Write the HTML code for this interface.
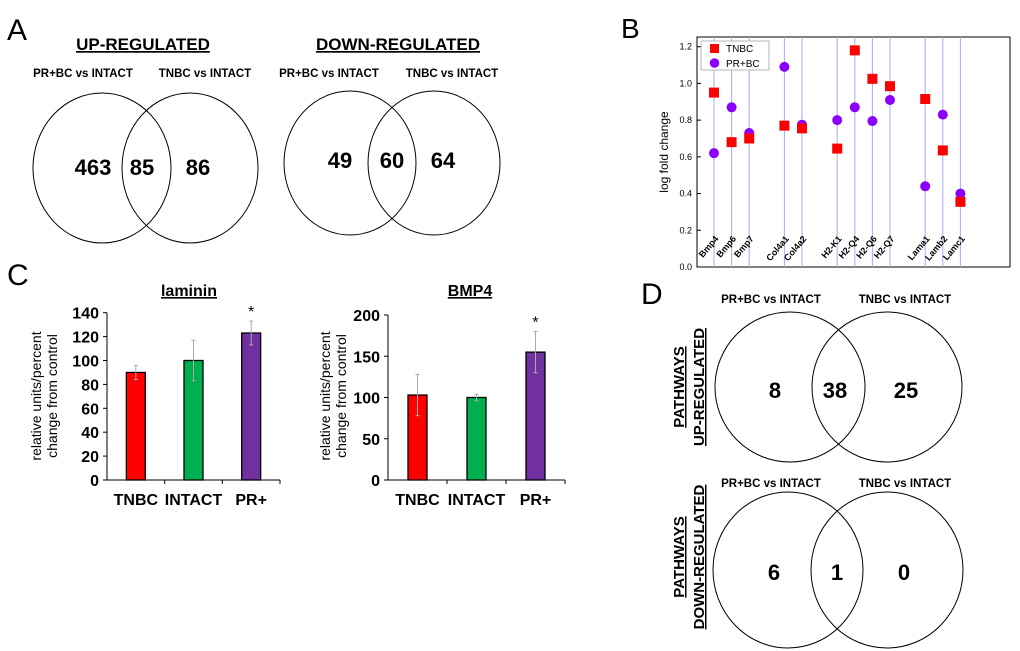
<!DOCTYPE html>
<html><head><meta charset="utf-8">
<style>
html,body{margin:0;padding:0;background:#fff;}
svg{display:block;font-family:"Liberation Sans",Arial,sans-serif;}
</style></head>
<body>
<svg id="fig" width="1020" height="651" viewBox="0 0 1020 651" xmlns="http://www.w3.org/2000/svg">
<!-- Panel A -->
<g>
<text x="7" y="40" font-size="30">A</text>
<text x="143" y="50" font-size="17" font-weight="bold" text-anchor="middle" text-decoration="underline">UP-REGULATED</text>
<text x="398" y="50" font-size="17" font-weight="bold" text-anchor="middle" text-decoration="underline">DOWN-REGULATED</text>
<text x="83" y="77" font-size="11.5" font-weight="bold" text-anchor="middle">PR+BC vs INTACT</text>
<text x="205" y="77" font-size="11.5" font-weight="bold" text-anchor="middle">TNBC vs INTACT</text>
<text x="329" y="77" font-size="11.5" font-weight="bold" text-anchor="middle">PR+BC vs INTACT</text>
<text x="452" y="77" font-size="11.5" font-weight="bold" text-anchor="middle">TNBC vs INTACT</text>
<ellipse cx="102" cy="168" rx="69" ry="75" fill="none" stroke="#000" stroke-width="1"/>
<ellipse cx="190" cy="168" rx="68" ry="75" fill="none" stroke="#000" stroke-width="1"/>
<ellipse cx="350" cy="163" rx="66" ry="72" fill="none" stroke="#000" stroke-width="1"/>
<ellipse cx="434" cy="163" rx="66" ry="72" fill="none" stroke="#000" stroke-width="1"/>
<g font-size="22" font-weight="bold" text-anchor="middle">
<text x="93" y="175">463</text>
<text x="142" y="175">85</text>
<text x="198" y="175">86</text>
<text x="340" y="168">49</text>
<text x="392" y="168">60</text>
<text x="443" y="168">64</text>
</g>
</g>
<!-- Panel B -->
<g id="panelB">
<text x="621" y="38" font-size="28">B</text>
</g>
<!-- Panel C -->
<g id="panelC">
<text x="7" y="285" font-size="30">C</text>
</g>
<!-- Panel D -->
<g>
<text x="641" y="304" font-size="30">D</text>
<text x="771" y="303" font-size="11.5" font-weight="bold" text-anchor="middle">PR+BC vs INTACT</text>
<text x="905" y="303" font-size="11.5" font-weight="bold" text-anchor="middle">TNBC vs INTACT</text>
<text x="771" y="487" font-size="11.5" font-weight="bold" text-anchor="middle">PR+BC vs INTACT</text>
<text x="905" y="487" font-size="11.5" font-weight="bold" text-anchor="middle">TNBC vs INTACT</text>
<ellipse cx="790" cy="387" rx="75" ry="75" fill="none" stroke="#000"/>
<ellipse cx="887" cy="387" rx="75" ry="75" fill="none" stroke="#000"/>
<ellipse cx="788" cy="570" rx="75" ry="78" fill="none" stroke="#000"/>
<ellipse cx="887" cy="570" rx="76" ry="78" fill="none" stroke="#000"/>
<g font-size="22" font-weight="bold" text-anchor="middle">
<text x="775" y="398">8</text>
<text x="835" y="398">38</text>
<text x="906" y="398">25</text>
<text x="774" y="580">6</text>
<text x="837" y="580">1</text>
<text x="904" y="580">0</text>
</g>
<g font-size="15" font-weight="bold" text-anchor="middle" text-decoration="underline">
<text transform="translate(684,387) rotate(-90)">PATHWAYS</text>
<text transform="translate(704,387) rotate(-90)">UP-REGULATED</text>
<text transform="translate(684,557) rotate(-90)">PATHWAYS</text>
<text transform="translate(704,557) rotate(-90)">DOWN-REGULATED</text>
</g>
</g>
</svg>
<script>
// ---- Panel B data ----
const genes = ["Bmp4","Bmp6","Bmp7","Col4a1","Col4a2","H2-K1","H2-Q4","H2-Q6","H2-Q7","Lama1","Lamb2","Lamc1"];
const geneSlots = [0,1,2,4,5,7,8,9,10,12,13,14];
const tnbcVals = [0.95,0.68,0.70,0.77,0.755,0.645,1.18,1.025,0.985,0.915,0.635,0.355];
const prbcVals = [0.62,0.87,0.73,1.09,0.775,0.80,0.87,0.795,0.91,0.44,0.83,0.40];
const bTicks = [0.0,0.2,0.4,0.6,0.8,1.0,1.2];
// ---- Panel C data ----
const cCategories = ["TNBC","INTACT","PR+"];
const lamininVals = [90,100,123];
const lamininErr = [6,17,10];
const lamininTicks = [0,20,40,60,80,100,120,140];
const bmp4Vals = [103,100,155];
const bmp4Err = [25,4,25];
const bmp4Ticks = [0,50,100,150,200];
const cSig = [false,false,true];

const NS="http://www.w3.org/2000/svg";
function mk(parent,tag,attrs,text){const e=document.createElementNS(NS,tag);for(const k in attrs)e.setAttribute(k,attrs[k]);if(text!==undefined)e.textContent=text;parent.appendChild(e);return e;}

// Panel B
(function(){
  const g=document.getElementById('panelB');
  const L=697,R=1010,T=37,B=267;
  const y=v=>B-(v/1.2)*(B-46.7);
  const x=s=>714+s*17.6;
  let e=mk(g,'rect',{x:L,y:T,width:R-L,height:B-T,fill:'none',stroke:'#000','stroke-width':1});
  
  
  bTicks.forEach(t=>{
    e=mk(g,'line',{x1:L,x2:L+4,y1:y(t),y2:y(t),stroke:'#000'});
    
    
    e=mk(g,'text',{x:L-5,y:y(t)+3,'font-size':9,'text-anchor':'end'},t.toFixed(1));
    
    
  });
  e=mk(g,'text',{transform:'translate(668,152) rotate(-90)','font-size':12,'text-anchor':'middle'},'log fold change');
  
  
  genes.forEach((gn,i)=>{
    const xx=x(geneSlots[i]);
    e=mk(g,'line',{x1:xx,x2:xx,y1:T,y2:B,stroke:'#aaaaf0','stroke-width':1});
    
    
    e=mk(g,'text',{transform:`translate(${xx+5},239) rotate(-50)`,'font-size':9,'font-weight':'bold','text-anchor':'end'},gn);
    
    
  });
  genes.forEach((gn,i)=>{
    const xx=x(geneSlots[i]);
    e=mk(g,'circle',{cx:xx,cy:y(prbcVals[i]),r:5,fill:'#8a00ff'});
    
    
    e=mk(g,'rect',{x:xx-5,y:y(tnbcVals[i])-5,width:10,height:10,fill:'#ff0000'});
    
    
  });
  e=mk(g,'rect',{x:701,y:41,width:68,height:29,fill:'#fff',stroke:'#999','stroke-width':0.7});
  
  
  e=mk(g,'rect',{x:710,y:44,width:9,height:9,fill:'#ff0000'});
  
  
  e=mk(g,'text',{x:726,y:52,'font-size':10},'TNBC');
  
  
  e=mk(g,'circle',{cx:714.5,cy:63,r:4.8,fill:'#8a00ff'});
  
  
  e=mk(g,'text',{x:726,y:67,'font-size':10},'PR+BC');
  
  
})();

// Panel C
(function(){
  const g=document.getElementById('panelC');
  const colors=['#ff0000','#00b050','#7030a0'];
  function chart(ax,axR,y0,yTop,max,ticks,vals,errs,centers,title,titleX,ylabX,name){
    const y=v=>y0-(v/max)*(y0-yTop);
    let e=mk(g,'text',{x:titleX,y:296,'font-size':16,'font-weight':'bold','text-anchor':'middle','text-decoration':'underline'},title);
    
    
    e=mk(g,'line',{x1:ax,x2:ax,y1:y0,y2:yTop,stroke:'#000'});
    
    
    e=mk(g,'line',{x1:ax,x2:axR,y1:y0,y2:y0,stroke:'#000'});
    
    
    ticks.forEach(t=>{
      e=mk(g,'line',{x1:ax-4,x2:ax,y1:y(t),y2:y(t),stroke:'#000'});
      
      
      e=mk(g,'text',{x:ax-8,y:y(t)+6,'font-size':16,'font-weight':'bold','text-anchor':'end'},t);
      
      
    });
    const step=(axR-ax)/3;
    for(let k=1;k<=3;k++){
      e=mk(g,'line',{x1:ax+k*step,x2:ax+k*step,y1:y0,y2:y0+4,stroke:'#000'});
      
      
    }
    vals.forEach((v,i)=>{
      const cx=ax+step*(i+0.5);
      e=mk(g,'rect',{x:cx-9.5,y:y(v),width:19,height:y0-y(v),fill:colors[i],stroke:'#000','stroke-width':1.3});
      
      
      e=mk(g,'line',{x1:cx,x2:cx,y1:y(v+errs[i]),y2:y(v-errs[i]),stroke:'#aaa','stroke-width':1});
      
      
      [v+errs[i],v-errs[i]].forEach(w=>{
        e=mk(g,'line',{x1:cx-2,x2:cx+2,y1:y(w),y2:y(w),stroke:'#aaa'});
        
        
      });
      if(cSig[i]){
        e=mk(g,'text',{x:cx,y:y(v+errs[i])-4,'font-size':16,'text-anchor':'middle'},'*');
        
        
      }
      e=mk(g,'text',{x:cx,y:505,'font-size':16,'font-weight':'bold','text-anchor':'middle'},cCategories[i]);
      
      
    });
    e=mk(g,'text',{transform:`translate(${ylabX},396) rotate(-90)`,'font-size':14,'text-anchor':'middle'},'relative units/percent');
    
    
    e=mk(g,'text',{transform:`translate(${ylabX+16},396) rotate(-90)`,'font-size':14,'text-anchor':'middle'},'change from control');
    
    
  }
  chart(107,280,480,312.7,140,lamininTicks,lamininVals,lamininErr,null,'laminin',189,41,'laminin');
  chart(388,565,480,315,200,bmp4Ticks,bmp4Vals,bmp4Err,null,'BMP4',470,330,'bmp4');
})();
</script>
</body></html>
